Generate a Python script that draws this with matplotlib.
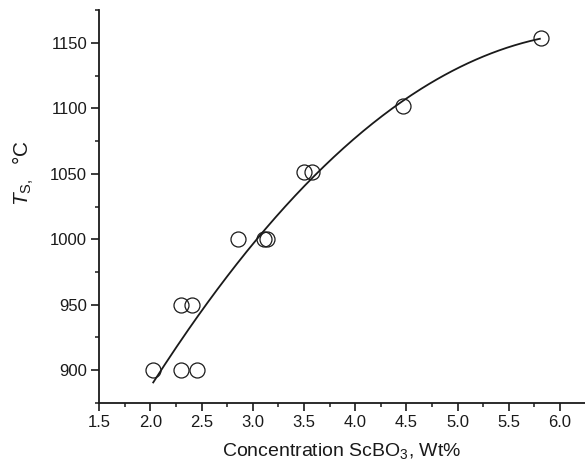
import numpy as np
import matplotlib
matplotlib.use("Agg")
import matplotlib.pyplot as plt
from matplotlib.ticker import MultipleLocator

plt.rcParams['font.family'] = ['Liberation Sans', 'DejaVu Sans']
plt.rcParams['mathtext.fontset'] = 'custom'
plt.rcParams['mathtext.rm'] = 'Liberation Sans'
plt.rcParams['mathtext.it'] = 'Liberation Sans:italic'

# Data
conc = [2.02, 2.295, 2.457, 2.298, 2.408, 2.857, 3.11, 3.14, 3.499, 3.574, 4.47, 5.82]
temp = [900, 900, 900, 950, 950, 1000, 1000, 1000, 1051, 1051, 1102, 1154]

# Fitted curve (quadratic), coefficients
fit_coef = [-13.97, 178.96, 585.15]
fit_range = [2.027, 5.804]

fig = plt.figure(figsize=(5.85, 4.66), dpi=100)
ax = fig.add_axes([0.1697, 0.1358, 0.8303, 0.8421])

xs = np.linspace(fit_range[0], fit_range[1], 200)
ax.plot(xs, np.polyval(fit_coef, xs), color='#1a1a1a', lw=1.3, zorder=2)
ax.plot(conc, temp, linestyle='none', marker='o', ms=10.8, mfc='none',
        mec='#1a1a1a', mew=0.9, zorder=3)

ax.set_xlim(1.5, 6.245)
ax.set_ylim(875, 1175)
ax.xaxis.set_major_locator(MultipleLocator(0.5))
ax.xaxis.set_minor_locator(MultipleLocator(0.25))
ax.yaxis.set_major_locator(MultipleLocator(50))
ax.yaxis.set_minor_locator(MultipleLocator(25))
ax.xaxis.set_major_formatter(matplotlib.ticker.FormatStrFormatter('%.1f'))

for s in ['top', 'right']:
    ax.spines[s].set_visible(False)
for s in ['left', 'bottom']:
    ax.spines[s].set_linewidth(1.3)
    ax.spines[s].set_color('#1a1a1a')

ax.tick_params(which='major', direction='out', length=5.8, width=1.2,
               labelsize=12, colors='#1a1a1a', pad=3)
ax.tick_params(which='minor', direction='out', length=2.9, width=1.1,
               colors='#1a1a1a')

ax.set_xlabel('Concentration ScBO$_3$, Wt%', fontsize=14, color='#1a1a1a', labelpad=8)
ax.set_ylabel(r'$\mathit{T}_{\mathrm{S},}$  °C', fontsize=15, color='#1a1a1a')
ax.yaxis.set_label_coords(-0.13, 0.585)

fig.savefig('out.png', dpi=100)
